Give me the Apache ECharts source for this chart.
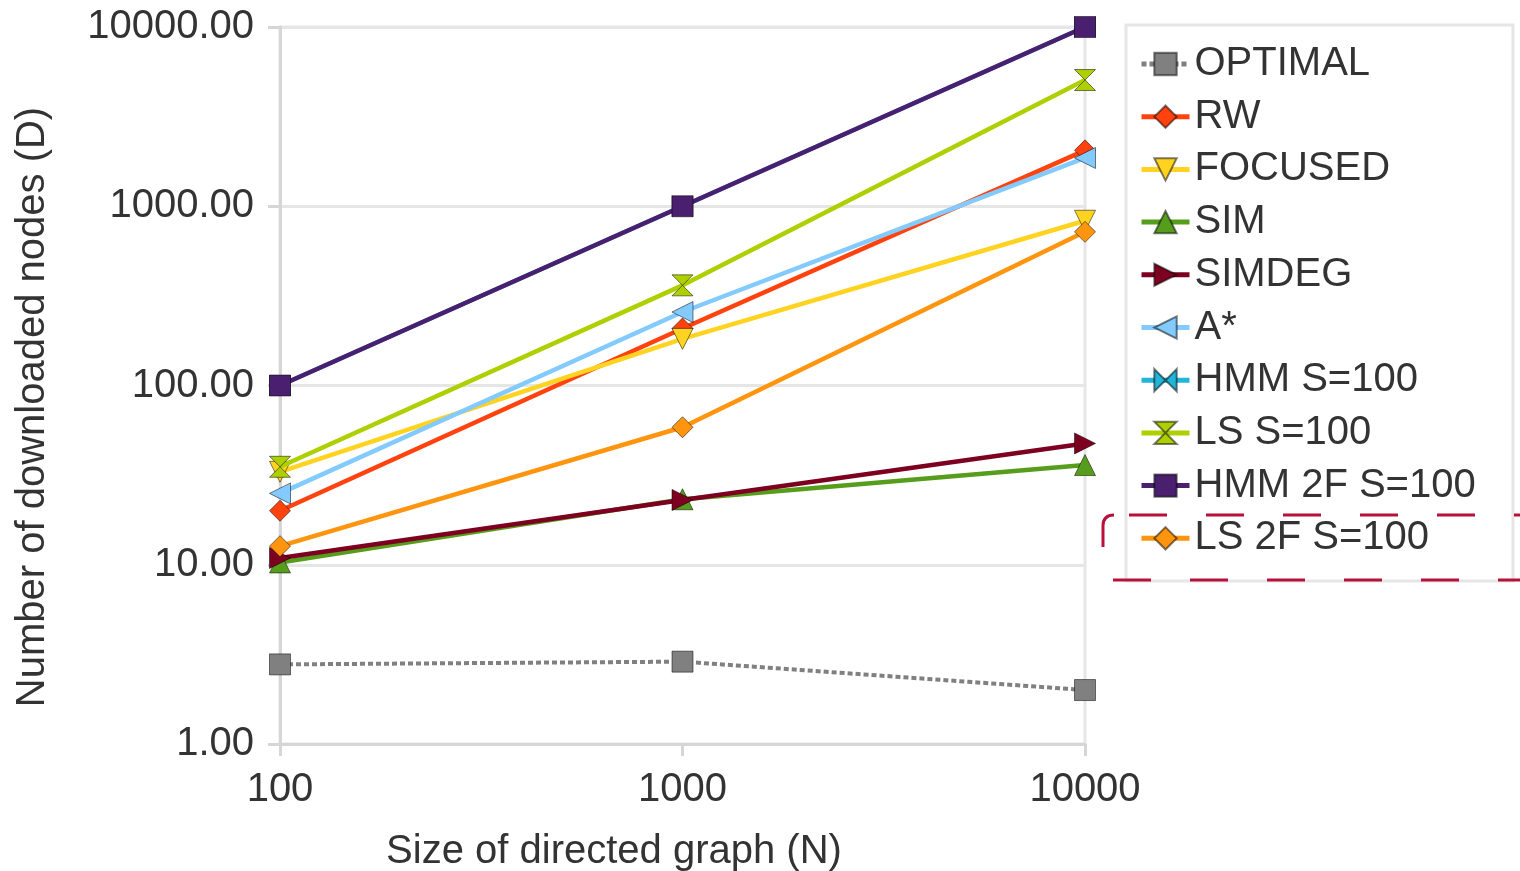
<!DOCTYPE html>
<html>
<head>
<meta charset="utf-8">
<script src="https://cdn.jsdelivr.net/npm/echarts@6/dist/echarts.min.js"></script>
<style>
html,body{margin:0;padding:0;background:#fff;}
#chart{width:1520px;height:871px;}
</style>
</head>
<body>
<div id="chart"></div>
<script>
// ---- data ----
var categories = [100, 1000, 10000];
var yTicks = [1, 10, 100, 1000, 10000];
var seriesNames = ['OPTIMAL', 'RW', 'FOCUSED', 'SIM', 'SIMDEG', 'A*', 'HMM S=100', 'LS S=100', 'HMM 2F S=100', 'LS 2F S=100'];
var optimal = [2.78, 2.88, 2.0];
var rw = [20, 208, 2050];
var focused = [33, 182, 830];
var sim = [10.3, 23.2, 36];
var simdeg = [10.9, 23, 47.5];
var astar = [25, 257, 1860];
var hmm = [100, 1000, 10000];
var ls = [35.2, 362, 5060];
var hmm2f = [100, 1000, 10000];
var ls2f = [12.7, 58.5, 720];

var FONT = 'Liberation Sans';
var TXT = '#333333';

var specs = [
  {data: optimal, color: '#808080', symbol: 'rect', dash: [5, 3], lw: 4},
  {data: rw, color: '#ff420e', symbol: 'diamond'},
  {data: focused, color: '#ffd320', symbol: 'path://M0,0L20,0L10,20Z'},
  {data: sim, color: '#579d1c', symbol: 'path://M10,0L20,20L0,20Z'},
  {data: simdeg, color: '#7e0021', symbol: 'path://M0,0L20,10L0,20Z'},
  {data: astar, color: '#83caff', symbol: 'path://M20,0L0,10L20,20Z'},
  {data: hmm, color: '#22b5d9', symbol: 'path://M0,0L10,10L0,20ZM20,0L10,10L20,20Z'},
  {data: ls, color: '#aecf00', symbol: 'path://M0,0L20,0L10,10ZM0,20L20,20L10,10Z'},
  {data: hmm2f, color: '#4b1f6f', symbol: 'rect'},
  {data: ls2f, color: '#ff950e', symbol: 'diamond'}
];

var series = specs.map(function (s, i) {
  return {
    name: seriesNames[i],
    type: 'line',
    data: categories.map(function (c, k) { return [c, s.data[k]]; }),
    symbol: s.symbol,
    symbolSize: 21,
    showSymbol: true,
    lineStyle: {color: s.color, width: s.lw || 4.5, type: s.dash || 'solid'},
    itemStyle: {color: s.color, borderColor: 'rgba(0,0,0,0.5)', borderWidth: 1},
    emphasis: {disabled: true},
    z: 2 + i
  };
});

var legendData = specs.map(function (s, i) {
  return {name: seriesNames[i], lineStyle: {width: 5, color: s.color, type: s.dash || 'solid'}};
});

var chart = echarts.init(document.getElementById('chart'), null, {renderer: 'canvas'});
chart.setOption({
  animation: false,
  backgroundColor: '#ffffff',
  grid: {left: 280, right: 435, top: 27, bottom: 127, show: true, borderColor: '#e6e6e6', borderWidth: 3, containLabel: false},
  xAxis: {
    type: 'log', logBase: 10, min: categories[0], max: categories[categories.length - 1],
    axisLine: {show: true, lineStyle: {color: '#d6d6d6', width: 3}},
    axisTick: {show: true, length: 12, lineStyle: {color: '#d6d6d6', width: 3}},
    minorTick: {show: false},
    splitLine: {show: false},
    axisLabel: {fontFamily: FONT, fontSize: 40, color: TXT, margin: 26,
      formatter: function (v) { return String(Math.round(v)); }}
  },
  yAxis: {
    type: 'log', logBase: 10, min: yTicks[0], max: yTicks[yTicks.length - 1],
    axisLine: {show: true, lineStyle: {color: '#d6d6d6', width: 3}},
    axisTick: {show: true, length: 12, lineStyle: {color: '#d6d6d6', width: 3}},
    splitLine: {show: true, lineStyle: {color: '#e6e6e6', width: 3}},
    axisLabel: {fontFamily: FONT, fontSize: 40, color: TXT, margin: 26, padding: [8, 0, 0, 0],
      formatter: function (v) { return Number(v).toFixed(2); }}
  },
  legend: {
    orient: 'vertical', left: 1139, top: 44, padding: 0,
    itemWidth: 48, itemHeight: 28, itemGap: 12.7,
    data: legendData,
    lineStyle: {width: 5},
    textStyle: {fontFamily: FONT, fontSize: 40, color: TXT, lineHeight: 40},
    selectedMode: false
  },
  graphic: [
    {type: 'rect', shape: {x: 1126, y: 25, width: 387, height: 556}, style: {fill: 'none', stroke: '#e6e6e6', lineWidth: 3}, z: 0, silent: true},
    {type: 'line', shape: {x1: 1129, y1: 515, x2: 1530, y2: 515}, style: {stroke: '#b8103a', lineWidth: 3, lineDash: [38, 39]}, z: 10, silent: true},
    {type: 'line', shape: {x1: 1113, y1: 580, x2: 1530, y2: 580}, style: {stroke: '#b8103a', lineWidth: 3, lineDash: [38, 39]}, z: 10, silent: true},
    {type: 'line', shape: {x1: 1103, y1: 547, x2: 1103, y2: 526}, style: {stroke: '#b8103a', lineWidth: 3}, z: 10, silent: true},
    {type: 'bezierCurve', shape: {x1: 1103, y1: 526, cpx1: 1103, cpy1: 515, x2: 1114, y2: 515}, style: {fill: 'none', stroke: '#b8103a', lineWidth: 3}, z: 10, silent: true},
    {type: 'text', x: 614, y: 852, style: {text: 'Size of directed graph (N)', fontFamily: FONT, fontSize: 40, fill: TXT, align: 'center', verticalAlign: 'middle'}, silent: true},
    {type: 'text', x: 33, y: 407, rotation: Math.PI / 2, style: {text: 'Number of downloaded nodes (D)', fontFamily: FONT, fontSize: 40, fill: TXT, align: 'center', verticalAlign: 'middle'}, silent: true}
  ],
  series: series
});
</script>
</body>
</html>
